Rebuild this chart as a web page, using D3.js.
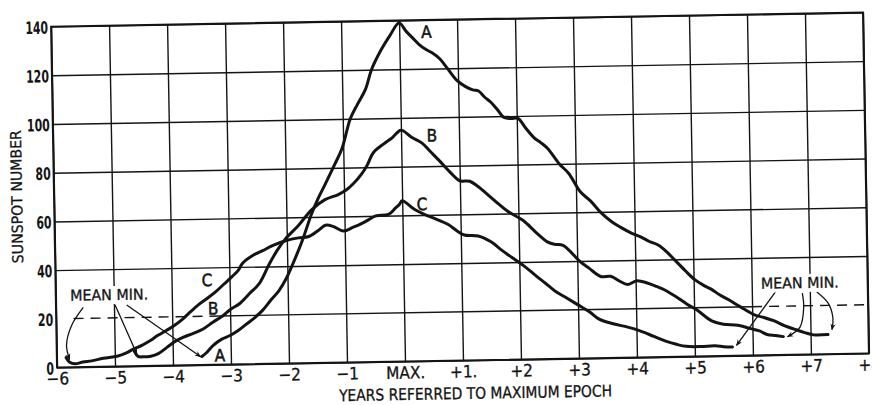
<!DOCTYPE html>
<html>
<head>
<meta charset="utf-8">
<script src="https://cdn.jsdelivr.net/npm/d3@7/dist/d3.min.js"></script>
<style>
  body { margin: 0; background: #fff; }
  svg { display: block; }
</style>
</head>
<body>
<div id="chart"></div>
<script>

// axis ticks
var yearTicks = [-6, -5, -4, -3, -2, -1, 0, 1, 2, 3, 4, 5, 6, 7, 8];
var yearLabels = ["\u22126", "\u22125", "\u22124", "\u22123", "\u22122", "\u22121", "MAX.", "+1.", "+2", "+3", "+4", "+5", "+6", "+7", "+8"];
var spotTicks = [0, 20, 40, 60, 80, 100, 120, 140];

// curve A
var aYears = [-3.5, -3.42, -3.3, -3.15, -3.0, -2.86, -2.72, -2.58, -2.44, -2.3, -2.15, -2.02, -1.92, -1.74, -1.57, -1.45, -1.33, -1.15, -1.02, -0.87, -0.74, -0.6, -0.49, -0.32, -0.16, 0,
              0.12, 0.22, 0.34, 0.45, 0.56, 0.69, 0.82, 0.98, 1.12, 1.25, 1.35, 1.45, 1.55, 1.66, 1.78, 1.9, 2.02, 2.15, 2.29, 2.4, 2.52, 2.72, 2.88, 3.07, 3.25, 3.41, 3.6, 3.76, 3.95,
              4.1, 4.25, 4.4, 4.55, 4.67, 4.85, 5.02, 5.18, 5.3, 5.45, 5.6, 5.8, 6.05, 6.2, 6.38, 6.55, 6.72, 6.9, 7.05, 7.3];
var aSpots = [3.5, 5, 8, 10.5, 12, 14, 16.5, 19, 22, 26, 30, 35, 40, 50, 61, 67.5, 73, 81.5, 88, 100, 106, 112, 120, 128, 134, 139,
              135.5, 133, 130, 128, 126.5, 124, 120, 115, 112.5, 111, 110.5, 108, 106, 103, 99.5, 99, 99, 95, 91, 89, 86.5, 80, 76, 68.5, 64.5, 60, 56, 53.5, 51,
              49.5, 47.5, 46, 43, 40, 35.5, 31.5, 29, 27.5, 25, 23, 20, 16.5, 15.5, 14, 12, 10.5, 9, 8, 8];

// curve B
var bYears = [-4.66, -4.6, -4.5, -4.38, -4.25, -4.1, -3.95, -3.82, -3.65, -3.47, -3.3, -3.13, -3.0, -2.83, -2.66, -2.49, -2.31, -2.17, -2.03, -1.8, -1.56, -1.33, -1.1, -0.95, -0.83, -0.7, -0.6, -0.48, -0.3, -0.15, 0,
              0.18, 0.36, 0.5, 0.66, 0.85, 1.0, 1.17, 1.3, 1.52, 1.66, 1.81, 2.08, 2.3, 2.5, 2.62, 2.76, 3.06, 3.2, 3.4, 3.57, 3.72, 3.86, 4.02, 4.2, 4.36, 4.5, 4.7, 4.88, 5.05, 5.3, 5.5, 5.75, 5.97, 6.12, 6.25, 6.4, 6.53];
var bSpots = [6, 4, 3.8, 4, 5, 7.5, 10, 11.5, 13, 14.8, 17.5, 20, 22.5, 25, 29, 33, 41, 46.5, 51, 56.5, 63, 67, 69, 71, 73.5, 77, 80.5, 86, 89.5, 92, 95,
              92, 89.5, 86, 82, 77, 73.8, 73.5, 71.5, 67, 64, 61, 57, 52, 48, 47, 46.5, 39.5, 37, 33.5, 33.5, 31.5, 30, 31.5, 30.5, 29, 27.5, 24.5, 21.5, 19, 14.5, 13, 12.5, 11, 10, 8.5, 8, 7.5];

// curve C
var cYears = [-5.84, -5.78, -5.69, -5.55, -5.4, -5.2, -4.96, -4.8, -4.68, -4.53, -4.39, -4.25, -4.1, -3.96, -3.82, -3.68, -3.53, -3.38, -3.24, -3.1, -2.96, -2.85, -2.77, -2.6, -2.42, -2.25, -2.01,
              -1.8, -1.62, -1.45, -1.33, -1.2, -1.02, -0.85, -0.7, -0.58, -0.46, -0.24, -0.12, -0.05, 0,
              0.2, 0.36, 0.55, 0.78, 0.95, 1.06, 1.3, 1.52, 1.7, 1.87, 2.1, 2.27, 2.45, 2.6, 2.8, 3.0, 3.2, 3.36, 3.6, 3.85, 4.05, 4.3, 4.5, 4.7, 4.85, 5.1, 5.35, 5.5, 5.65];
var cSpots = [4, 2.1, 1.4, 2.1, 2.5, 3.5, 4.2, 5.5, 7, 8.5, 10.3, 12.5, 14.5, 16.5, 19, 22, 25, 27.5, 30, 33, 36, 38.5, 41.5, 44.5, 46.5, 48.5, 50.5,
              51.5, 52, 54.5, 56.5, 56, 54, 55.5, 57, 58.5, 60, 60.5, 63, 64.5, 66,
              62.5, 60.5, 58.5, 56, 53, 51.5, 51, 48.5, 45, 42, 38, 34.5, 31, 28, 25, 22, 19, 16, 14, 12.5, 11, 8.5, 6.5, 5, 4.2, 4, 4.2, 3.8, 3.6];

// curve letters, anchored in data units (baseline centre)
var letterNames = ["A", "B", "C", "C", "B", "A"];
var letterYears = [0.47, 0.53, 0.34, -3.39, -3.29, -3.19];
var letterSpots = [132.7, 90.1, 62, 32.3, 20.7, 1.4];

// "mean min." notes and their arrows
var noteYears = [-5.08, 6.83];
var noteSpots = [27.3, 27.3];
var arrowPaths = [
  [[-5.53, 24.5], [-5.74, 17], [-5.83, 9], [-5.78, 3.2]],
  [[-4.98, 25.3], [-4.62, 5]],
  [[-4.78, 25.2], [-3.52, 3.4]],
  [[6.52, 29.5], [5.72, 4.2]],
  [[6.87, 25.2], [6.89, 19.5], [6.82, 11.3], [6.6, 7.4]],
  [[7.12, 25.6], [7.31, 21], [7.39, 14.8], [7.37, 10]]
];

var width = 872, height = 405;
var plotLeft = 54, plotRight = 866, plotTop = 19.5, plotBottom = 360.5;
var ink = "#141414";
var txtFont = "'DejaVu Sans Condensed', 'Liberation Sans Narrow', sans-serif";

var x = d3.scaleLinear().domain([-6, 8]).range([plotLeft, plotRight]);
var y = d3.scaleLinear().domain([0, 140]).range([plotBottom, plotTop]);

var svg = d3.select("#chart").append("svg")
  .attr("width", width)
  .attr("height", height);

svg.append("rect").attr("width", width).attr("height", height).attr("fill", "#fff");

var defs = svg.append("defs");
defs.append("marker")
  .attr("id", "head")
  .attr("viewBox", "0 0 10 10")
  .attr("refX", 9).attr("refY", 5)
  .attr("markerWidth", 5).attr("markerHeight", 5)
  .attr("orient", "auto")
  .append("path")
  .attr("d", "M0,1 L10,5 L0,9 L3,5 Z")
  .attr("fill", ink);

// the scanned sheet sits slightly tilted
var g = svg.append("g").attr("transform", "rotate(-1,460,190)");

// vertical grid
var xGrid = g.append("g")
  .attr("transform", "translate(0," + plotBottom + ")")
  .call(d3.axisBottom(x).tickValues(yearTicks).tickSize(-(plotBottom - plotTop)).tickFormat(""));
xGrid.select(".domain").remove();
xGrid.selectAll("line").attr("stroke", ink).attr("stroke-width", 1.4);

// horizontal grid (20 handled separately)
var yGrid = g.append("g")
  .attr("transform", "translate(" + plotLeft + ",0)")
  .call(d3.axisLeft(y).tickValues(spotTicks.filter(function(d) { return d != 20; })).tickSize(-(plotRight - plotLeft)).tickFormat(""));
yGrid.select(".domain").remove();
yGrid.selectAll("line").attr("stroke", ink).attr("stroke-width", 1.4);

var twenty = [[-5.7, -3.2, "10,7"], [-3.2, 6.0, null], [6.0, 8, "10,7"]];
g.selectAll(".twenty")
  .data(twenty)
  .enter().append("line")
  .attr("x1", function(d) { return x(d[0]); })
  .attr("x2", function(d) { return x(d[1]); })
  .attr("y1", y(20)).attr("y2", y(20))
  .attr("stroke", ink)
  .attr("stroke-width", 1.4)
  .attr("stroke-dasharray", function(d) { return d[2]; });

// frame
g.append("rect")
  .attr("x", plotLeft).attr("y", plotTop)
  .attr("width", plotRight - plotLeft).attr("height", plotBottom - plotTop)
  .attr("fill", "none")
  .attr("stroke", ink)
  .attr("stroke-width", 2);

// tick labels
var yAxis = g.append("g")
  .attr("transform", "translate(" + plotLeft + ",0)")
  .call(d3.axisLeft(y).tickValues(spotTicks).tickSize(0).tickPadding(3));
yAxis.select(".domain").remove();
yAxis.selectAll("text")
  .attr("y", 1)
  .attr("fill", ink)
  .attr("textLength", function(d) { return String(d).length * 7.6; })
  .attr("lengthAdjust", "spacingAndGlyphs")
  .style("font-family", txtFont)
  .style("font-weight", "bold")
  .style("font-size", "17px");

var xAxis = g.append("g")
  .attr("transform", "translate(0," + plotBottom + ")")
  .call(d3.axisBottom(x).tickValues(yearTicks).tickSize(0).tickPadding(5)
    .tickFormat(function(d, i) { return yearLabels[i]; }));
xAxis.select(".domain").remove();
xAxis.selectAll("text")
  .attr("fill", ink)
  .attr("stroke", ink)
  .attr("stroke-width", 0.3)
  .style("font-family", txtFont)
  .style("font-size", "17px");

// curves
var line = d3.line()
  .x(function(d) { return x(d[0]); })
  .y(function(d) { return y(d[1]); })
  .curve(d3.curveCatmullRom.alpha(0.5));

var curves = [
  { name: "A", pts: d3.zip(aYears, aSpots) },
  { name: "B", pts: d3.zip(bYears, bSpots) },
  { name: "C", pts: d3.zip(cYears, cSpots) }
];

g.selectAll(".curve")
  .data(curves)
  .enter().append("path")
  .attr("class", "curve")
  .attr("d", function(d) { return line(d.pts); })
  .attr("fill", "none")
  .attr("stroke", ink)
  .attr("stroke-width", 3)
  .attr("stroke-linejoin", "round")
  .attr("stroke-linecap", "round");

// letters on the curves
g.selectAll(".letter")
  .data(letterNames)
  .enter().append("text")
  .attr("x", function(d, i) { return x(letterYears[i]); })
  .attr("y", function(d, i) { return y(letterSpots[i]); })
  .attr("text-anchor", "middle")
  .attr("fill", ink)
  .attr("stroke", ink)
  .attr("stroke-width", 0.5)
  .style("font-family", txtFont)
  .style("font-size", "17px")
  .text(function(d) { return d; });

// arrows
var arrowLine = d3.line()
  .x(function(d) { return x(d[0]); })
  .y(function(d) { return y(d[1]); })
  .curve(d3.curveCatmullRom.alpha(0.5));

g.selectAll(".arrow")
  .data(arrowPaths)
  .enter().append("path")
  .attr("d", arrowLine)
  .attr("fill", "none")
  .attr("stroke", ink)
  .attr("stroke-width", 1.3)
  .attr("marker-end", "url(#head)");

// "mean min." notes with paper behind them
var notes = g.selectAll(".note")
  .data(noteYears)
  .enter().append("g");

notes.append("text")
  .attr("x", function(d) { return x(d); })
  .attr("y", function(d, i) { return y(noteSpots[i]); })
  .attr("text-anchor", "middle")
  .attr("textLength", 78)
  .attr("lengthAdjust", "spacingAndGlyphs")
  .attr("fill", ink)
  .attr("stroke", ink)
  .attr("stroke-width", 0.3)
  .style("font-family", txtFont)
  .style("font-size", "15px")
  .text("MEAN MIN.");

notes.each(function() {
  var t = d3.select(this).select("text");
  var b = t.node().getBBox();
  d3.select(this).insert("rect", "text")
    .attr("x", b.x - 2).attr("y", b.y)
    .attr("width", b.width + 4).attr("height", b.height)
    .attr("fill", "#fff");
});

// axis titles
g.append("text")
  .attr("transform", "translate(22,189) rotate(-90)")
  .attr("text-anchor", "middle")
  .attr("textLength", 133)
  .attr("lengthAdjust", "spacingAndGlyphs")
  .attr("fill", ink)
  .attr("stroke", ink)
  .attr("stroke-width", 0.3)
  .style("font-family", txtFont)
  .style("font-size", "15px")
  .text("SUNSPOT NUMBER");

g.append("text")
  .attr("x", (plotLeft + plotRight) / 2 + 12)
  .attr("y", 399)
  .attr("text-anchor", "middle")
  .attr("textLength", 273)
  .attr("lengthAdjust", "spacingAndGlyphs")
  .attr("fill", ink)
  .attr("stroke", ink)
  .attr("stroke-width", 0.3)
  .style("font-family", txtFont)
  .style("font-size", "16px")
  .text("YEARS REFERRED TO MAXIMUM EPOCH");

</script>
</body>
</html>
